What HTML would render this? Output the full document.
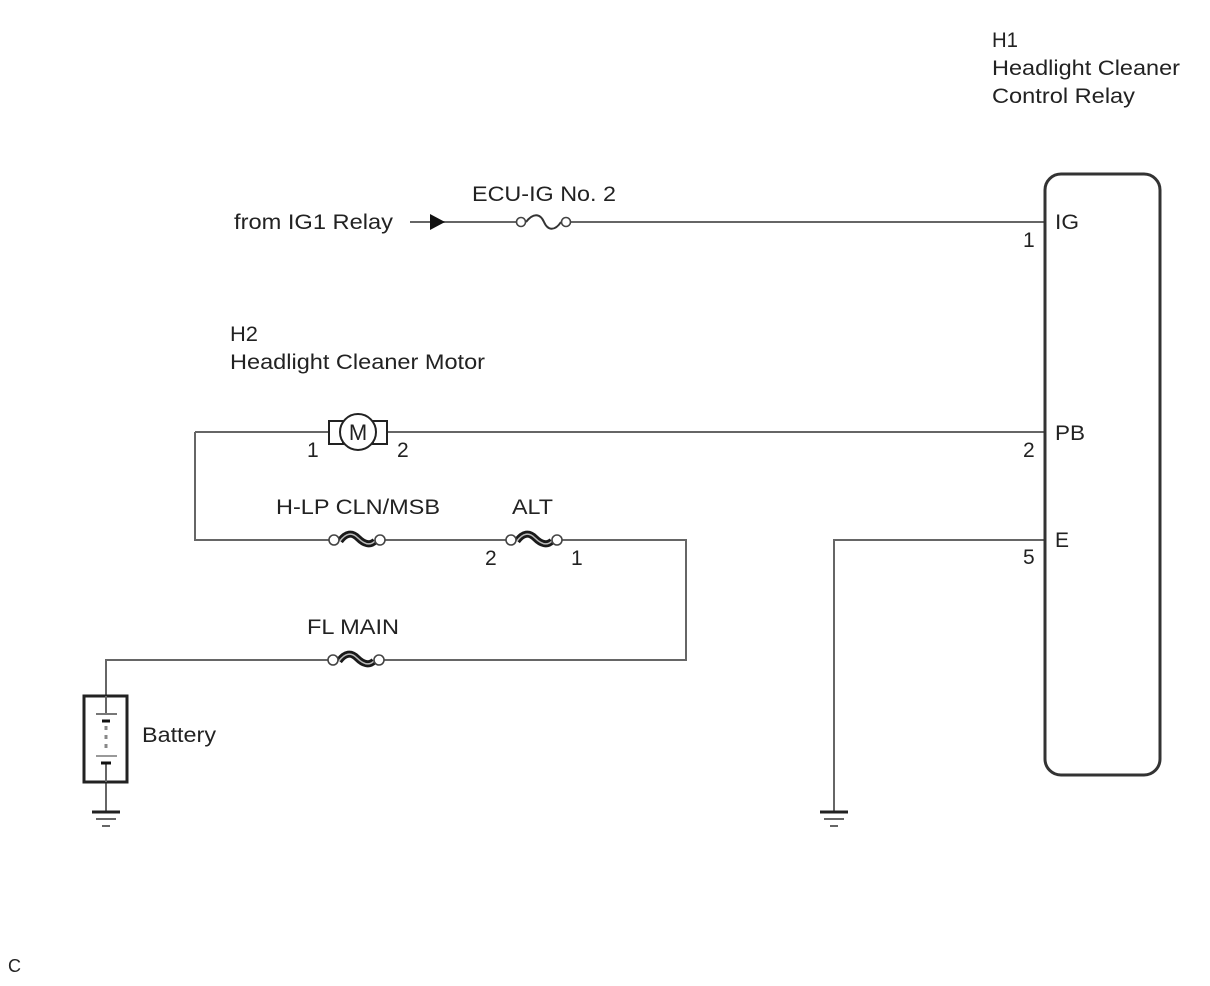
<!DOCTYPE html>
<html><head><meta charset="utf-8"><style>
html,body{margin:0;padding:0;background:#fff;}
svg{display:block;}
text{font-family:"Liberation Sans",Arial,sans-serif;font-size:21px;fill:#222;}
</style></head><body>
<svg width="1210" height="986" viewBox="0 0 1210 986" xmlns="http://www.w3.org/2000/svg">
<defs>
<g id="gnd" stroke="#222" fill="none">
<line x1="-14" y1="0" x2="14" y2="0" stroke-width="3"/>
<line x1="-10" y1="7" x2="10" y2="7" stroke-width="2" stroke="#666"/>
<line x1="-4" y1="14" x2="4" y2="14" stroke-width="2" stroke="#666"/>
</g>
<g id="hfuse">
<path d="M6,1 C12,-7 18,-8 24,-2 C30,4 36,6 41,1" stroke="#1a1a1a" stroke-width="7" fill="none"/>
<path d="M6,1 C12,-7 18,-8 24,-2 C30,4 36,6 41,1" stroke="#bbb" stroke-width="1.5" fill="none"/>
<circle cx="0" cy="0" r="5" fill="#fff" stroke="#444" stroke-width="1.6"/>
<circle cx="46" cy="0" r="5" fill="#fff" stroke="#444" stroke-width="1.6"/>
</g>
</defs>
<g stroke="#666" stroke-width="2" fill="none">
<line x1="410" y1="222" x2="1045" y2="222"/>
<line x1="195" y1="432" x2="1045" y2="432"/>
<polyline points="195,432 195,540 686,540 686,660 106,660 106,696"/>
<line x1="106" y1="782" x2="106" y2="812"/>
<polyline points="1045,540 834,540 834,812"/>
</g>
<polygon points="430,214 445,222 430,230" fill="#111"/>
<line x1="521" y1="222" x2="566" y2="222" stroke="#fff" stroke-width="4"/>
<path d="M526,222 C533,213 540,213 544,222 C548,231 555,231 561,222" stroke="#333" stroke-width="2" fill="none"/>
<circle cx="521" cy="222" r="4.5" fill="#fff" stroke="#444" stroke-width="1.6"/>
<circle cx="566" cy="222" r="4.5" fill="#fff" stroke="#444" stroke-width="1.6"/>
<line x1="333" y1="540" x2="379" y2="540" stroke="#fff" stroke-width="4"/>
<use href="#hfuse" x="334" y="540"/>
<line x1="511" y1="540" x2="557" y2="540" stroke="#fff" stroke-width="4"/>
<use href="#hfuse" x="511" y="540"/>
<line x1="333" y1="660" x2="379" y2="660" stroke="#fff" stroke-width="4"/>
<use href="#hfuse" x="333" y="660"/>
<rect x="329" y="421" width="14" height="23" fill="#fff" stroke="#222" stroke-width="2"/>
<rect x="373" y="421" width="14" height="23" fill="#fff" stroke="#222" stroke-width="2"/>
<circle cx="358" cy="432" r="18" fill="#fff" stroke="#222" stroke-width="2"/>
<text x="358" y="440" text-anchor="middle" style="font-size:22px">M</text>
<rect x="84" y="696" width="43" height="86" fill="#fff" stroke="#222" stroke-width="3"/>
<line x1="106" y1="696" x2="106" y2="713" stroke="#666" stroke-width="2"/>
<line x1="106" y1="764" x2="106" y2="782" stroke="#666" stroke-width="2"/>
<line x1="96" y1="714" x2="117" y2="714" stroke="#777" stroke-width="2"/>
<line x1="102" y1="721" x2="110" y2="721" stroke="#111" stroke-width="3"/>
<line x1="106" y1="726" x2="106" y2="752" stroke="#888" stroke-width="3" stroke-dasharray="4,5"/>
<line x1="96" y1="756" x2="117" y2="756" stroke="#999" stroke-width="2"/>
<line x1="101" y1="763" x2="111" y2="763" stroke="#111" stroke-width="3"/>
<use href="#gnd" x="106" y="812"/>
<use href="#gnd" x="834" y="812"/>
<rect x="1045" y="174" width="115" height="601" rx="16" ry="16" fill="#fff" stroke="#333" stroke-width="3"/>
<text x="992" y="47" textLength="26" lengthAdjust="spacingAndGlyphs">H1</text>
<text x="992" y="75" textLength="188" lengthAdjust="spacingAndGlyphs">Headlight Cleaner</text>
<text x="992" y="103" textLength="143" lengthAdjust="spacingAndGlyphs">Control Relay</text>
<text x="472" y="201" textLength="144" lengthAdjust="spacingAndGlyphs">ECU-IG No. 2</text>
<text x="234" y="229" textLength="159" lengthAdjust="spacingAndGlyphs">from IG1 Relay</text>
<text x="1055" y="229" textLength="24" lengthAdjust="spacingAndGlyphs">IG</text>
<text x="1023" y="247">1</text>
<text x="230" y="341" textLength="28" lengthAdjust="spacingAndGlyphs">H2</text>
<text x="230" y="369" textLength="255" lengthAdjust="spacingAndGlyphs">Headlight Cleaner Motor</text>
<text x="307" y="457">1</text>
<text x="397" y="457">2</text>
<text x="1055" y="440" textLength="30" lengthAdjust="spacingAndGlyphs">PB</text>
<text x="1023" y="457">2</text>
<text x="276" y="514" textLength="164" lengthAdjust="spacingAndGlyphs">H-LP CLN/MSB</text>
<text x="512" y="514" textLength="41" lengthAdjust="spacingAndGlyphs">ALT</text>
<text x="485" y="565">2</text>
<text x="571" y="565">1</text>
<text x="1055" y="547">E</text>
<text x="1023" y="564">5</text>
<text x="307" y="634" textLength="92" lengthAdjust="spacingAndGlyphs">FL MAIN</text>
<text x="142" y="742" textLength="74" lengthAdjust="spacingAndGlyphs">Battery</text>
<text x="8" y="972" style="font-size:18px">C</text>
</svg>
</body></html>
